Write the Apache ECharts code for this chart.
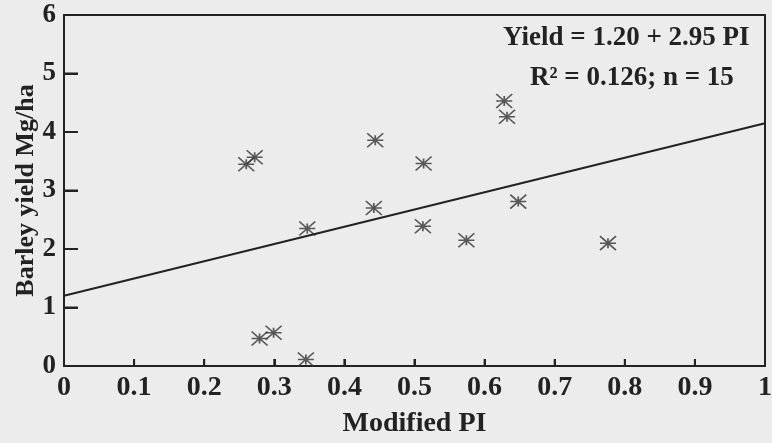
<!DOCTYPE html>
<html>
<head>
<meta charset="utf-8">
<script src="https://cdn.jsdelivr.net/npm/echarts@6/dist/echarts.min.js"></script>
<style>
html,body{margin:0;padding:0;background:#ececec;}
#chart{width:772px;height:443px;}
</style>
</head>
<body>
<div id="chart"></div>
<script>
// Data
var piValues    = [0.260, 0.272, 0.279, 0.299, 0.345, 0.347, 0.442, 0.444, 0.512, 0.513, 0.574, 0.628, 0.632, 0.648, 0.776];
var yieldValues = [3.45, 3.57, 0.47, 0.57, 0.11, 2.35, 2.70, 3.86, 2.39, 3.46, 2.15, 4.53, 4.26, 2.81, 2.10];
var fitX = [0, 1];
var fitY = [1.20, 4.15];
var xTicks = [0, 0.1, 0.2, 0.3, 0.4, 0.5, 0.6, 0.7, 0.8, 0.9, 1];
var yTicks = [0, 1, 2, 3, 4, 5, 6];
var equationLines = ['Yield = 1.20 + 2.95 PI', 'R\u00b2 = 0.126; n = 15'];

var scatterData = piValues.map(function (x, i) { return [x, yieldValues[i]]; });
var fitData = fitX.map(function (x, i) { return [x, fitY[i]]; });
// inner tick marks (the end ticks coincide with the frame)
var xTickData = xTicks.slice(1, -1).map(function (v) { return [v, 0]; });
var yTickData = yTicks.slice(1, -1).map(function (v) { return [0, v]; });

var FONT = '"Liberation Serif", "Times New Roman", serif';
var INK = '#222';

function tickSeries(data, horizontal, len) {
  return {
    type: 'custom', coordinateSystem: 'cartesian2d', xAxisIndex: 0, yAxisIndex: 0,
    silent: true, clip: false, z: 10,
    data: data,
    renderItem: function (params, api) {
      var p = api.coord([api.value(0), api.value(1)]);
      var shape = horizontal
        ? {x: p[0], y: p[1] - 1, width: len, height: 2}
        : {x: p[0] - 1, y: p[1] - len, width: 2, height: len};
      return {type: 'rect', shape: shape, style: {fill: INK}};
    }
  };
}

var chart = echarts.init(document.getElementById('chart'), null, {renderer: 'canvas'});
chart.setOption({
  backgroundColor: '#ececec',
  animation: false,
  grid: {left: 64, right: 7, top: 15, bottom: 77, show: false, containLabel: false, outerBoundsMode: 'none'},
  xAxis: [{
    type: 'value', min: 0, max: 1, interval: 0.1, position: 'bottom',
    name: 'Modified PI', nameLocation: 'middle', nameGap: 44, nameMoveOverlap: false,
    nameTextStyle: {fontFamily: FONT, fontWeight: 'bold', fontSize: 28, color: INK},
    axisLine: {show: true, onZero: false, lineStyle: {color: INK, width: 2}},
    axisTick: {show: true, inside: true, length: 7, lineStyle: {color: INK, width: 2}},
    splitLine: {show: false},
    axisLabel: {show: true, fontFamily: FONT, fontWeight: 'bold', fontSize: 28, color: INK, margin: 8,
      formatter: function (v) { return xTicks.indexOf(Math.round(v * 10) / 10) >= 0 ? String(Math.round(v * 10) / 10) : ''; }}
  }, {
    type: 'value', min: 0, max: 1, interval: 0.1, position: 'top',
    axisLine: {show: true, onZero: false, lineStyle: {color: INK, width: 2}},
    axisTick: {show: false}, axisLabel: {show: false}, splitLine: {show: false}
  }],
  yAxis: [{
    type: 'value', min: 0, max: 6, interval: 1, position: 'left',
    name: 'Barley yield Mg/ha', nameLocation: 'middle', nameGap: 25, nameMoveOverlap: false,
    nameTextStyle: {fontFamily: FONT, fontWeight: 'bold', fontSize: 26, color: INK},
    axisLine: {show: true, onZero: false, lineStyle: {color: INK, width: 2}},
    axisTick: {show: true, inside: true, length: 14, lineStyle: {color: INK, width: 2}},
    splitLine: {show: false},
    axisLabel: {show: true, fontFamily: FONT, fontWeight: 'bold', fontSize: 27, color: INK, margin: 8,
      formatter: function (v) { return yTicks.indexOf(v) >= 0 ? String(v) : ''; }}
  }, {
    type: 'value', min: 0, max: 6, interval: 1, position: 'right',
    axisLine: {show: true, onZero: false, lineStyle: {color: INK, width: 2}},
    axisTick: {show: false}, axisLabel: {show: false}, splitLine: {show: false}
  }],
  graphic: [
    {type: 'text', left: 503, top: 25, z: 10, style: {text: equationLines[0], font: 'bold 27px ' + FONT, fill: INK}},
    {type: 'text', left: 530, top: 65, z: 10, style: {text: equationLines[1], font: 'bold 27px ' + FONT, fill: INK}}
  ],
  series: [
    {
      type: 'line', data: fitData, symbol: 'none', silent: true,
      lineStyle: {color: INK, width: 2}
    },
    {
      type: 'scatter', data: scatterData,
      symbol: 'path://M0,0L16,14M16,0L0,14M0,7L16,7M8,2L8,12',
      symbolSize: [16, 14],
      itemStyle: {color: 'rgba(0,0,0,0)', borderColor: '#333', borderWidth: 1.6}
    },
    tickSeries(xTickData, false, 7),
    tickSeries(yTickData, true, 14)
  ]
});
</script>
</body>
</html>
